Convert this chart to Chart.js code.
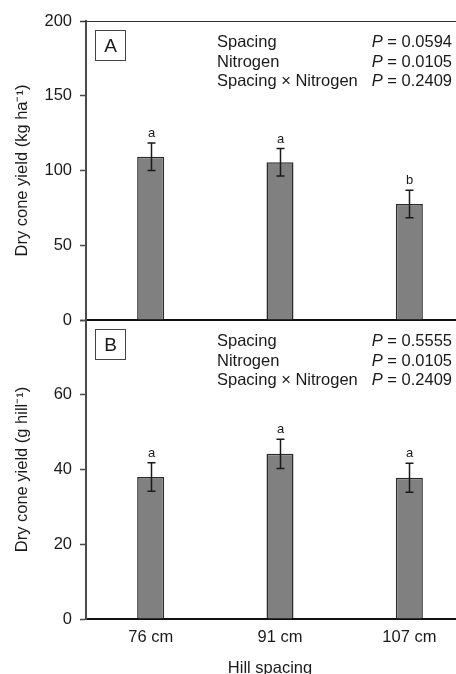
<!DOCTYPE html>
<html><head><meta charset="utf-8">
<script src="https://cdn.jsdelivr.net/npm/chart.js@4/dist/chart.umd.min.js"></script>
<style>
html,body{margin:0;padding:0;background:#fff;overflow:hidden;}
#wrap{position:relative;width:456px;height:674px;overflow:hidden;background:#fff;}
#ca{position:absolute;left:0;top:0;}
#cb{position:absolute;left:0;top:300px;}
</style></head><body>
<div id="wrap">
<canvas id="ca" width="474" height="338"></canvas>
<canvas id="cb" width="474" height="378"></canvas>
</div>
<script>
// ---- data ----
const categories = ['76 cm', '91 cm', '107 cm'];
const yieldHa = [109.2, 105.5, 77.6];
const yieldHaErr = [9.2, 9.2, 9.2];
const lettersHa = ['a', 'a', 'b'];
const yieldHill = [38.0, 44.2, 37.8];
const yieldHillErr = [3.8, 3.9, 3.9];
const lettersHill = ['a', 'a', 'a'];
const ticksHa = [0, 50, 100, 150, 200];
const ticksHill = [0, 20, 40, 60, 80];
const statTerms = ['Spacing', 'Nitrogen', 'Spacing × Nitrogen'];
const pValuesA = ['0.0594', '0.0105', '0.2409'];
const pValuesB = ['0.5555', '0.0105', '0.2409'];
const panelA = 'A';
const panelB = 'B';
const titleA = 'Dry cone yield (kg ha⁻¹)';
const titleB = 'Dry cone yield (g hill⁻¹)';
const xTitle = 'Hill spacing';

// ---- styles ----
const FONT = '"Liberation Sans", Arial, sans-serif';
const TXT = '#1a1a1a';
const AXIS = '#4a4a4a';

function annotPlugin(letters, errs, means, terms, pvals, panel, drawTop, extra) {
  return {
    id: 'annot' + panel,
    afterDatasetsDraw(chart) {
      const ctx = chart.ctx;
      const ys = chart.scales.y;
      const meta = chart.getDatasetMeta(0);
      const area = chart.chartArea;
      ctx.save();
      ctx.strokeStyle = '#1a1a1a';
      ctx.lineWidth = 1.5;
      meta.data.forEach((bar, i) => {
        const x = Math.round(bar.x) + 0.5;
        const yt = ys.getPixelForValue(means[i] + errs[i]);
        const yb = ys.getPixelForValue(means[i] - errs[i]);
        ctx.beginPath();
        ctx.moveTo(x, yt); ctx.lineTo(x, yb);
        ctx.moveTo(x - 4, yt); ctx.lineTo(x + 4, yt);
        ctx.moveTo(x - 4, yb); ctx.lineTo(x + 4, yb);
        ctx.stroke();
        ctx.fillStyle = TXT;
        ctx.font = '13px ' + FONT;
        ctx.textAlign = 'center';
        ctx.textBaseline = 'alphabetic';
        ctx.fillText(letters[i], x, yt - 6);
      });
      if (drawTop) {
        ctx.strokeStyle = '#333';
        ctx.lineWidth = 1;
        ctx.beginPath();
        ctx.moveTo(area.left - 6, Math.round(area.top) + 0.5);
        ctx.lineTo(area.right, Math.round(area.top) + 0.5);
        ctx.stroke();
      }
      ctx.strokeStyle = '#444';
      ctx.lineWidth = 1;
      const bx = Math.round(area.left) + 9.5, by = Math.round(area.top) + 9.5;
      ctx.strokeRect(bx, by, 30, 30);
      ctx.fillStyle = TXT;
      ctx.font = '19px ' + FONT;
      ctx.textAlign = 'center';
      ctx.textBaseline = 'middle';
      ctx.fillText(panel, bx + 15, by + 16);
      const left = area.left + 131;
      const right = area.left + 366;
      terms.forEach((t, i) => {
        const yy = area.top + 26 + i * 19.5;
        ctx.textBaseline = 'alphabetic';
        ctx.font = '16.5px ' + FONT;
        ctx.textAlign = 'left';
        ctx.fillText(t, left, yy);
        const rest = ' = ' + pvals[i];
        const wRest = ctx.measureText(rest).width;
        ctx.textAlign = 'right';
        ctx.fillText(rest, right, yy);
        ctx.font = 'italic 16.5px ' + FONT;
        ctx.fillText('P', right - wRest, yy);
      });
      if (extra) extra(chart, ctx);
      ctx.restore();
    }
  };
}

function yScale(ticks, title, hideTop) {
  return {
    min: ticks[0], max: ticks[ticks.length - 1],
    afterBuildTicks: s => { s.ticks = ticks.map(v => ({ value: v })); },
    afterFit: s => { s.width = 86; },
    border: { display: true, color: AXIS, width: 2 },
    grid: { display: true, drawOnChartArea: false, drawTicks: true, tickLength: 6, tickColor: AXIS, tickWidth: 1.5 },
    ticks: {
      padding: 8, color: TXT, font: { family: FONT, size: 16.5 },
      callback: v => (hideTop && v === ticks[ticks.length - 1]) ? '' : String(v)
    },
    title: { display: true, text: title, color: TXT, font: { family: FONT, size: 16.5, lineHeight: 1.2 }, padding: { top: 13, bottom: 0 } }
  };
}

const barStyle = {
  backgroundColor: '#808080', borderColor: '#2b2b2b', borderWidth: 1.5,
  barPercentage: 0.209, categoryPercentage: 1.0
};

new Chart(document.getElementById('ca'), {
  type: 'bar',
  data: { labels: categories, datasets: [Object.assign({ data: yieldHa }, barStyle)] },
  options: {
    responsive: false, animation: false, devicePixelRatio: 1,
    layout: { padding: { top: 21, bottom: 18, left: 0, right: 0 } },
    plugins: { legend: { display: false }, tooltip: { enabled: false } },
    scales: {
      x: {
        type: 'category', offset: true,
        afterFit: s => { s.height = 0; },
        grid: { display: false, drawTicks: false },
        ticks: { display: false },
        border: { display: true, color: '#111', width: 2 }
      },
      y: yScale(ticksHa, titleA, false)
    }
  },
  plugins: [annotPlugin(lettersHa, yieldHaErr, yieldHa, statTerms, pValuesA, panelA, true)]
});

new Chart(document.getElementById('cb'), {
  type: 'bar',
  data: { labels: categories, datasets: [Object.assign({ data: yieldHill }, barStyle)] },
  options: {
    responsive: false, animation: false, devicePixelRatio: 1,
    layout: { padding: { top: 20, bottom: 0, left: 0, right: 0 } },
    plugins: { legend: { display: false }, tooltip: { enabled: false } },
    scales: {
      x: {
        type: 'category', offset: true,
        afterFit: s => { s.height = 59; },
        grid: { display: false, drawTicks: false },
        ticks: { padding: 9, color: TXT, font: { family: FONT, size: 16.5 }, maxRotation: 0 },
        border: { display: true, color: '#111', width: 2 }
      },
      y: yScale(ticksHill, titleB, true)
    }
  },
  plugins: [annotPlugin(lettersHill, yieldHillErr, yieldHill, statTerms, pValuesB, panelB, false,
    (chart, ctx) => {
      ctx.fillStyle = TXT;
      ctx.font = '16.5px ' + FONT;
      ctx.textAlign = 'center';
      ctx.textBaseline = 'middle';
      ctx.fillText(xTitle, 270, 368);
    })]
});
</script>
</body></html>
